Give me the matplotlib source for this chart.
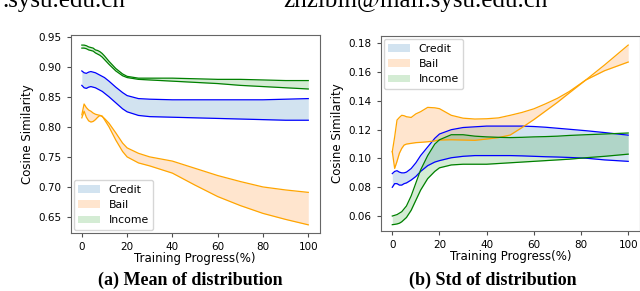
import numpy as np
import matplotlib.pyplot as plt
from matplotlib.patches import Patch

# 训练进度 (%)
mean_x = [0, 1, 2, 3, 4, 5, 6, 7, 8, 9, 10, 12, 15, 18, 20, 25, 30, 40, 50, 60, 70, 80, 90, 100]
# Mean of distribution
credit_mean_hi = [0.893, 0.890, 0.889, 0.891, 0.892, 0.891, 0.890, 0.888, 0.886, 0.884, 0.882, 0.876, 0.866, 0.857, 0.852, 0.847, 0.846, 0.845, 0.845, 0.845, 0.845, 0.845, 0.846, 0.847]
credit_mean_lo = [0.869, 0.865, 0.864, 0.866, 0.867, 0.866, 0.865, 0.863, 0.861, 0.859, 0.856, 0.850, 0.840, 0.830, 0.825, 0.819, 0.817, 0.816, 0.815, 0.814, 0.813, 0.812, 0.811, 0.811]
bail_mean_hi = [0.820, 0.838, 0.832, 0.828, 0.826, 0.823, 0.821, 0.820, 0.819, 0.817, 0.814, 0.806, 0.790, 0.773, 0.765, 0.756, 0.750, 0.743, 0.731, 0.719, 0.709, 0.700, 0.695, 0.691]
bail_mean_lo = [0.815, 0.826, 0.816, 0.810, 0.808, 0.809, 0.812, 0.816, 0.819, 0.818, 0.812, 0.800, 0.778, 0.759, 0.750, 0.740, 0.735, 0.723, 0.703, 0.684, 0.669, 0.656, 0.646, 0.637]
income_mean_hi = [0.936, 0.936, 0.935, 0.933, 0.932, 0.931, 0.928, 0.927, 0.925, 0.922, 0.918, 0.909, 0.897, 0.888, 0.884, 0.881, 0.881, 0.881, 0.880, 0.879, 0.879, 0.878, 0.877, 0.877]
income_mean_lo = [0.931, 0.931, 0.930, 0.928, 0.927, 0.926, 0.923, 0.921, 0.919, 0.916, 0.912, 0.904, 0.893, 0.885, 0.882, 0.879, 0.878, 0.876, 0.874, 0.872, 0.869, 0.867, 0.865, 0.863]

std_x = [0, 1, 2, 3, 4, 5, 6, 8, 10, 12, 15, 18, 20, 25, 30, 35, 40, 45, 50, 55, 60, 65, 70, 75, 82, 90, 100]
# Std of distribution
credit_std_hi = [0.0895, 0.091, 0.0915, 0.0905, 0.090, 0.090, 0.0905, 0.093, 0.097, 0.102, 0.108, 0.114, 0.117, 0.120, 0.1215, 0.122, 0.1225, 0.1225, 0.1225, 0.1225, 0.1222, 0.1217, 0.121, 0.1203, 0.1193, 0.118, 0.1162]
credit_std_lo = [0.080, 0.0825, 0.0825, 0.0815, 0.0815, 0.0825, 0.083, 0.085, 0.0875, 0.091, 0.095, 0.0975, 0.0985, 0.1005, 0.1015, 0.102, 0.102, 0.102, 0.102, 0.1018, 0.1015, 0.1012, 0.101, 0.1007, 0.1002, 0.099, 0.098]
bail_std_a = [0.1047, 0.115, 0.1267, 0.1285, 0.130, 0.1297, 0.129, 0.1285, 0.131, 0.1325, 0.1355, 0.1352, 0.1346, 0.130, 0.128, 0.1274, 0.1276, 0.1282, 0.130, 0.132, 0.1345, 0.138, 0.1418, 0.1465, 0.1545, 0.161, 0.167]
bail_std_b = [0.1047, 0.0931, 0.098, 0.1036, 0.107, 0.1093, 0.110, 0.1105, 0.111, 0.1112, 0.1116, 0.1122, 0.1128, 0.113, 0.1128, 0.1126, 0.1135, 0.1145, 0.1163, 0.1215, 0.127, 0.133, 0.139, 0.1455, 0.1545, 0.165, 0.1788]
income_std_hi = [0.060, 0.0605, 0.061, 0.062, 0.063, 0.065, 0.067, 0.074, 0.083, 0.092, 0.102, 0.110, 0.113, 0.1165, 0.1165, 0.1155, 0.115, 0.1147, 0.1145, 0.1147, 0.115, 0.1152, 0.1155, 0.116, 0.1165, 0.117, 0.1177]
income_std_lo = [0.054, 0.0542, 0.0545, 0.055, 0.056, 0.0575, 0.059, 0.064, 0.071, 0.078, 0.086, 0.091, 0.0935, 0.0955, 0.096, 0.096, 0.096, 0.0965, 0.097, 0.0975, 0.098, 0.0985, 0.099, 0.0995, 0.1005, 0.1015, 0.103]

names = ['Credit', 'Bail', 'Income']
line_colors = ['blue', 'orange', 'green']
fill_colors = ['tab:blue', 'tab:orange', 'tab:green']

W, H = 640, 291
fig = plt.figure(figsize=(6.4, 2.91), dpi=100)

def box(l, t, r, b):
    return [l / W, 1 - b / H, (r - l) / W, (b - t) / H]

def panel(ax, x, bands, ylim, loc):
    for (hi, lo), lc, fc in zip(bands, line_colors, fill_colors):
        ax.fill_between(x, lo, hi, color=fc, alpha=0.2, lw=0)
        ax.plot(x, hi, color=lc, lw=0.9)
        ax.plot(x, lo, color=lc, lw=0.9)
    ax.set_xlim(-5, 105)
    ax.set_ylim(*ylim)
    ax.set_xticks([0, 20, 40, 60, 80, 100])
    ax.tick_params(labelsize=7.5, length=3, color='0.3')
    for s in ax.spines.values():
        s.set_color('0.4')
    ax.set_xlabel('Training Progress(%)', fontsize=8.5, labelpad=0)
    ax.set_ylabel('Cosine Similarity', fontsize=8.5, labelpad=3)
    handles = [Patch(facecolor=fc, alpha=0.2) for fc in fill_colors]
    ax.legend(handles, names, loc=loc, fontsize=7.8, borderaxespad=0.3)

ax1 = fig.add_axes(box(70.5, 35, 319.6, 233))
panel(ax1, mean_x,
      [(credit_mean_hi, credit_mean_lo), (bail_mean_hi, bail_mean_lo), (income_mean_hi, income_mean_lo)],
      (0.6234, 0.9528), 'lower left')
ax1.set_yticks([0.65, 0.70, 0.75, 0.80, 0.85, 0.90, 0.95])

ax2 = fig.add_axes(box(380.5, 36, 640, 231))
panel(ax2, std_x,
      [(credit_std_hi, credit_std_lo), (bail_std_a, bail_std_b), (income_std_hi, income_std_lo)],
      (0.0496, 0.1851), 'upper left')
ax2.set_yticks([0.06, 0.08, 0.10, 0.12, 0.14, 0.16, 0.18])

serif = 'Liberation Serif'
fig.text(190.8 / W, 6 / H, '(a) Mean of distribution', ha='center', va='baseline',
         fontsize=13, fontweight='bold', family=serif)
fig.text(493 / W, 6 / H, '(b) Std of distribution', ha='center', va='baseline',
         fontsize=13, fontweight='bold', family=serif)
# 页眉残留的邮箱文字
fig.text(125 / W, 1 - 6.5 / H, '.sysu.edu.cn', ha='right', va='baseline', fontsize=18, family=serif)
fig.text(283 / W, 1 - 6.5 / H, 'zhzibin@mail.sysu.edu.cn', ha='left', va='baseline', fontsize=18, family=serif)

fig.savefig('out.png', dpi=100)
